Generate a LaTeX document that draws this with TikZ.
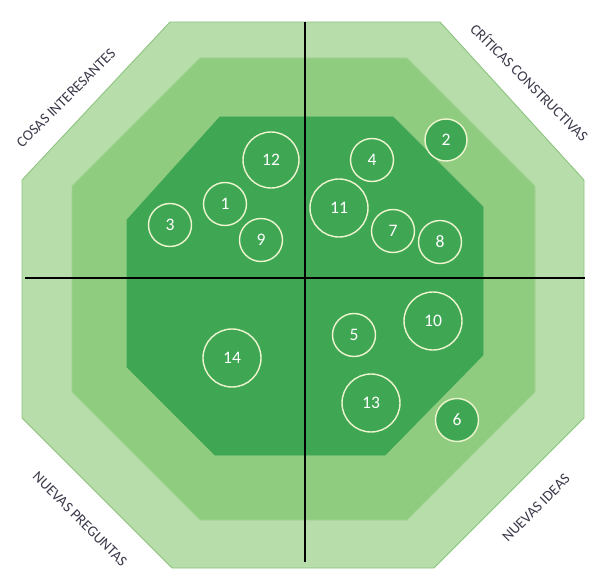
\documentclass[tikz,border=0pt]{standalone}
\usepackage{fontspec}
\setmainfont{Carlito}
\usepackage{tikz}

\definecolor{outerband}{HTML}{B6DDAA}
\definecolor{outeredge}{HTML}{8CC47E}
\definecolor{midband}{HTML}{90CC80}
\definecolor{innerband}{HTML}{3FA754}
\definecolor{ringline}{HTML}{EEF5CF}
\definecolor{labeltext}{HTML}{3A3A4A}

\begin{document}
\begin{tikzpicture}[x=0.02cm, y=-0.02cm]
% --- Global Styles ---
\tikzstyle{band} = [line width=0.5pt, line join=miter]
\tikzstyle{idea} = [circle, draw=ringline, line width=0.8pt, text=white, inner sep=0pt, font=\fontsize{10}{12}\selectfont]
\tikzstyle{hot} = [idea, fill=innerband]
\tikzstyle{corner} = [text=labeltext, inner sep=0pt, font=\fontsize{8.5}{10}\selectfont]
\tikzstyle{axis} = [line width=1.4pt, black]

% --- Ring sizes (diameters) ---
\def\rs{0.86cm}   % small ring
\def\rm{1.12cm}   % medium ring
\def\rl{1.16cm}   % large ring

\useasboundingbox (0,0) rectangle (592,574);

% ==========================================
% BANDS: outer, middle, inner octagon
% ==========================================
\draw[band, fill=outerband, draw=outeredge] (170,22) -- (440,22) -- (584,180) -- (584,418)
  -- (434,568) -- (172,568) -- (22,418) -- (22,180) -- cycle;
\draw[band, fill=midband, draw=midband!85!white] (200,58) -- (407,58) -- (535,186) -- (535,392)
  -- (407,520) -- (200,520) -- (72,392) -- (72,186) -- cycle;
\draw[band, fill=innerband, draw=innerband] (220,117) -- (393,117) -- (483,207) -- (483,355)
  -- (385,455) -- (215,455) -- (127,367) -- (127,220) -- cycle;

% ==========================================
% QUADRANT AXES
% ==========================================
\coordinate (axT) at (305,22);
\coordinate (axB) at (305,562);
\coordinate (axL) at (25,278);
\coordinate (axR) at (585,278);
\draw[axis] (axT) -- (axB);
\draw[axis] (axL) -- (axR);

% ==========================================
% CORNER LABELS
% ==========================================
\node[corner, rotate=45] (lblCosas) at (66,98) {COSAS INTERESANTES};
\node[corner, rotate=-45] (lblCriticas) at (530,82) {CRÍTICAS CONSTRUCTIVAS};
\node[corner, rotate=-45] (lblPreguntas) at (80,519) {NUEVAS PREGUNTAS};
\node[corner, rotate=45] (lblIdeas) at (536,508) {NUEVAS IDEAS};

% ==========================================
% TOP LEFT: rings
% ==========================================
\node[idea, minimum size=\rm] (n12) at (271,160) {12};
\node[idea, minimum size=\rs] (n1) at (225,204) {1};
\node[idea, minimum size=\rs] (n3) at (170,225) {3};
\node[idea, minimum size=\rs] (n9) at (261,240) {9};

% ==========================================
% TOP RIGHT: rings
% ==========================================
\node[idea, minimum size=\rs] (n4) at (372,160) {4};
\node[hot, minimum size=0.84cm] (n2) at (446,140) {2};
\node[idea, minimum size=\rl] (n11) at (339,208) {11};
\node[idea, minimum size=\rs] (n7) at (393,231) {7};
\node[idea, minimum size=\rs] (n8) at (440,242) {8};

% ==========================================
% BOTTOM: rings
% ==========================================
\node[idea, minimum size=\rl] (n14) at (232,358) {14};
\node[idea, minimum size=\rs] (n5) at (354,335) {5};
\node[idea, minimum size=\rl] (n10) at (433,321) {10};
\node[idea, minimum size=\rl] (n13) at (371,403) {13};
\node[hot, minimum size=\rs] (n6) at (457,420) {6};

\end{tikzpicture}
\end{document}
